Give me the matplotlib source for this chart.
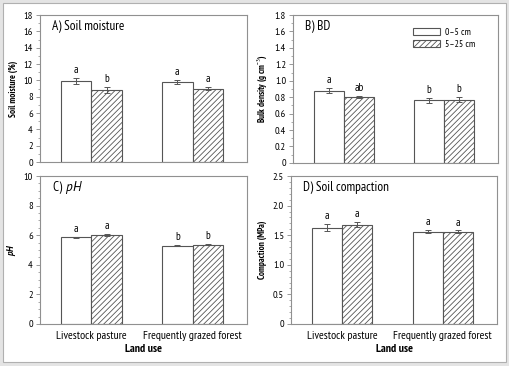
import numpy as np
import matplotlib.pyplot as plt
from matplotlib.patches import Rectangle
from matplotlib.ticker import MultipleLocator

land_use = ['Livestock pasture', 'Frequently grazed forest']
depths = ['0\u20135 cm', '5\u201325 cm']

# values per panel: [pasture, forest] for each depth
moist_top = [9.9, 9.8]
moist_sub = [8.85, 9.0]
moist_top_err = [0.35, 0.2]
moist_sub_err = [0.35, 0.2]
moist_top_let = ['a', 'a']
moist_sub_let = ['b', 'a']

bd_top = [0.88, 0.76]
bd_sub = [0.80, 0.77]
bd_top_err = [0.03, 0.03]
bd_sub_err = [0.01, 0.03]
bd_top_let = ['a', 'b']
bd_sub_let = ['ab', 'b']

ph_top = [5.85, 5.28]
ph_sub = [6.0, 5.35]
ph_top_err = [0.05, 0.04]
ph_sub_err = [0.05, 0.03]
ph_top_let = ['a', 'b']
ph_sub_let = ['a', 'b']

comp_top = [1.63, 1.56]
comp_sub = [1.68, 1.56]
comp_top_err = [0.06, 0.03]
comp_sub_err = [0.04, 0.02]
comp_top_let = ['a', 'a']
comp_sub_let = ['a', 'a']

plt.rcParams['font.family'] = ['PT Sans Narrow', 'DejaVu Sans']
plt.rcParams['mathtext.fontset'] = 'custom'
plt.rcParams['mathtext.rm'] = 'PT Sans Narrow'
plt.rcParams['mathtext.it'] = 'PT Sans:italic'
plt.rcParams['mathtext.bf'] = 'PT Sans Narrow:bold'
plt.rcParams['mathtext.bfit'] = 'PT Sans:italic:bold'
plt.rcParams['hatch.linewidth'] = 0.6
plt.rcParams['hatch.color'] = '#444444'

fig = plt.figure(figsize=(5.10, 3.66), dpi=100, facecolor='#e4e4e4')
fig.patches.append(Rectangle((3 / 510, 4 / 366), 503 / 510, 359 / 366, transform=fig.transFigure,
                             facecolor='white', edgecolor='#b0b0b0', lw=0.8, zorder=-1))

panels = [
    ([0.0784, 0.557, 0.406, 0.402], moist_top, moist_sub, moist_top_err, moist_sub_err,
     moist_top_let, moist_sub_let, 'A) Soil moisture', 'Soil moisture (%)', 18, 2, 1),
    ([0.5745, 0.555, 0.402, 0.404], bd_top, bd_sub, bd_top_err, bd_sub_err,
     bd_top_let, bd_sub_let, 'B) BD', 'Bulk density (g cm$^{-3}$)', 1.8, 0.2, 0.1),
    ([0.0784, 0.115, 0.406, 0.404], ph_top, ph_sub, ph_top_err, ph_sub_err,
     ph_top_let, ph_sub_let, 'C) $\\,\\mathit{pH}$', '$\\mathbfit{pH}$', 10, 2, 0.5),
    ([0.5706, 0.115, 0.404, 0.404], comp_top, comp_sub, comp_top_err, comp_sub_err,
     comp_top_let, comp_sub_let, 'D) Soil compaction', 'Compaction (MPa)', 2.5, 0.5, 0.1),
]

x = np.arange(len(land_use))
w = 0.30
for i, (pos, top, sub, etop, esub, ltop, lsub, title, ylab, ymax, step, minor) in enumerate(panels):
    ax = fig.add_axes(pos)
    ax.bar(x - w / 2, top, w, yerr=etop, color='white', edgecolor='#555555', lw=0.8,
           capsize=2, error_kw=dict(ecolor='#555555', elinewidth=0.7, capthick=0.7), label=depths[0])
    ax.bar(x + w / 2, sub, w, yerr=esub, color='white', edgecolor='#555555', lw=0.8, hatch='//////',
           capsize=2, error_kw=dict(ecolor='#555555', elinewidth=0.7, capthick=0.7), label=depths[1])
    for j in range(len(x)):
        ax.text(x[j] - w / 2, top[j] + etop[j] + ymax * 0.02, ltop[j], ha='center', va='bottom', fontsize=8)
        ax.text(x[j] + w / 2, sub[j] + esub[j] + ymax * 0.02, lsub[j], ha='center', va='bottom', fontsize=8)
    ax.set_xlim(-0.51, 1.54)
    ax.set_ylim(0, ymax)
    ticks = np.arange(0, ymax + step / 2, step)
    ax.set_yticks(ticks)
    if step < 1:
        ax.set_yticklabels(['0'] + [f'{t:.1f}' for t in ticks[1:]])
    ax.yaxis.set_minor_locator(MultipleLocator(minor))
    ax.tick_params(axis='y', which='major', length=3, width=0.6, color='#888888', labelsize=7.5, pad=2)
    ax.tick_params(axis='y', which='minor', length=1.5, width=0.5, color='#888888')
    ax.tick_params(axis='x', length=0, labelsize=8.5, pad=5)
    for s in ax.spines.values():
        s.set_color('#909090')
        s.set_linewidth(0.8)
    ax.text(0.058, 0.925, title, transform=ax.transAxes, fontsize=9.5, va='center')
    ax.set_ylabel(ylab, fontsize=6.5, fontweight='bold', labelpad=4)
    if i >= 2:
        ax.set_xticks(x, land_use)
        ax.set_xlabel('Land use', fontsize=8.5, fontweight='bold', labelpad=2)
    else:
        ax.set_xticks([])
    if i == 1:
        ax.legend(loc='upper right', bbox_to_anchor=(0.93, 0.97), frameon=False, fontsize=7,
                  handlelength=2.8, handleheight=0.7, handletextpad=0.5, labelspacing=0.25)

plt.savefig('out.png', dpi=100, facecolor=fig.get_facecolor())
